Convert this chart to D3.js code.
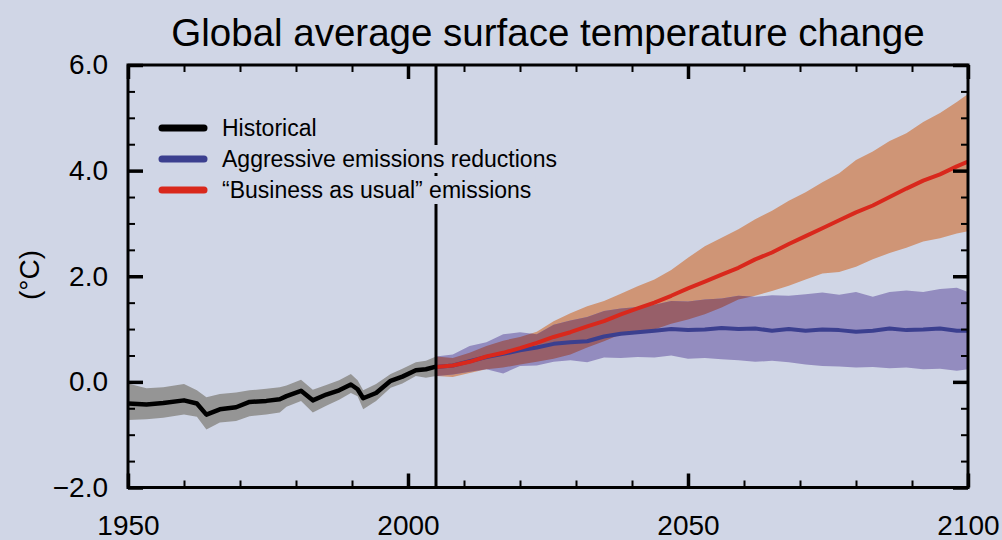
<!DOCTYPE html>
<html><head><meta charset="utf-8">
<script src="https://cdn.jsdelivr.net/npm/d3@7"></script>
<style>
html,body{margin:0;padding:0;background:#d0d6e6;}
text{font-family:"Liberation Sans",Arial,sans-serif;fill:#000;}
</style></head>
<body><svg id="c" width="1002" height="540"></svg>
<script>
// ---------- data ----------
const histYears = [1950,1953.3,1956.3,1960,1962.3,1964,1966.4,1969.3,1971.7,1974.7,1977.1,1978.3,1980.9,1983,1985.4,1987.7,1989.8,1991,1992,1994.3,1996.9,1999,2001.4,2003.2,2005];
const histMean  = [-0.41,-0.43,-0.40,-0.35,-0.41,-0.62,-0.52,-0.48,-0.38,-0.36,-0.33,-0.27,-0.17,-0.35,-0.24,-0.16,-0.05,-0.14,-0.31,-0.21,0.02,0.10,0.22,0.24,0.29];
const histHigh  = [-0.03,-0.12,-0.10,-0.04,-0.16,-0.29,-0.23,-0.20,-0.16,-0.13,-0.10,-0.07,0.04,-0.15,-0.06,0.03,0.15,0.03,-0.16,-0.04,0.15,0.25,0.37,0.40,0.48];
const histLow   = [-0.72,-0.71,-0.68,-0.62,-0.66,-0.90,-0.77,-0.74,-0.65,-0.62,-0.58,-0.47,-0.36,-0.58,-0.45,-0.34,-0.21,-0.27,-0.52,-0.36,-0.11,-0.03,0.11,0.08,0.11];

const projYears = [2005,2008,2011,2014,2017,2020,2023,2026,2029,2032,2035,2038,2041,2044,2047,2050,2053,2056,2059,2062,2065,2068,2071,2074,2077,2080,2083,2086,2089,2092,2095,2098,2100];
const bauMean = [0.28,0.31,0.38,0.48,0.55,0.64,0.74,0.85,0.94,1.05,1.15,1.28,1.39,1.50,1.63,1.77,1.90,2.03,2.16,2.32,2.45,2.61,2.76,2.91,3.06,3.21,3.34,3.50,3.66,3.81,3.93,4.08,4.17];
const bauHigh = [0.48,0.45,0.55,0.68,0.78,0.85,0.95,1.15,1.30,1.43,1.53,1.67,1.81,1.94,2.12,2.35,2.57,2.73,2.89,3.08,3.24,3.43,3.59,3.78,3.95,4.20,4.36,4.56,4.71,4.92,5.09,5.30,5.45];
const bauLow  = [0.11,0.09,0.17,0.24,0.27,0.33,0.38,0.44,0.52,0.65,0.77,0.90,0.96,0.99,1.10,1.18,1.28,1.41,1.56,1.63,1.72,1.82,1.94,2.05,2.08,2.18,2.32,2.44,2.54,2.66,2.72,2.81,2.85];
const aggMean = [0.28,0.31,0.39,0.47,0.53,0.60,0.65,0.72,0.75,0.77,0.86,0.91,0.94,0.97,1.00,0.98,0.99,1.02,1.00,1.01,0.97,1.00,0.97,0.99,0.98,0.95,0.97,1.01,0.98,0.99,1.01,0.97,0.97];
const aggHigh = [0.48,0.52,0.68,0.75,0.90,0.94,0.90,1.08,1.16,1.23,1.34,1.39,1.42,1.46,1.53,1.52,1.56,1.58,1.63,1.61,1.64,1.63,1.66,1.69,1.65,1.70,1.61,1.70,1.73,1.70,1.76,1.78,1.70];
const aggLow  = [0.11,0.14,0.19,0.24,0.16,0.30,0.31,0.38,0.41,0.37,0.46,0.45,0.47,0.46,0.50,0.44,0.45,0.43,0.41,0.38,0.40,0.37,0.33,0.30,0.29,0.27,0.28,0.26,0.27,0.24,0.25,0.21,0.24];

const xMajor = [1950,2000,2050,2100];
const xMinor = [1960,1970,1980,1990,2010,2020,2030,2040,2060,2070,2080,2090];
const yMajor = [-2,0,2,4,6];
const yMinor = [-1.5,-1,-0.5,0.5,1,1.5,2.5,3,3.5,4.5,5,5.5];
const splitYear = 2005;
const legendLabels = ["Historical","Aggressive emissions reductions","\u201cBusiness as usual\u201d emissions"];
const titleText = "Global average surface temperature change";
const yTitle = "(\u00b0C)";

// ---------- layout ----------
const L = 128, R = 968, T = 65, B = 487.5;
const BG = "#d0d6e6";
const svg = d3.select("#c");
svg.append("rect").attr("width",1002).attr("height",540).attr("fill",BG);

const x = d3.scaleLinear().domain([1950,2100]).range([L,R]);
const y = d3.scaleLinear().domain([-2,6]).range([B,T]);

svg.append("text").attr("x",548).attr("y",46).attr("text-anchor","middle")
  .attr("font-size",38.5).text(titleText);

svg.append("text").attr("transform","translate(39,275) rotate(-90)")
  .attr("text-anchor","middle").attr("font-size",28).text(yTitle);

const defs = svg.append("defs");
defs.append("clipPath").attr("id","plot").append("rect")
  .attr("x",L).attr("y",T).attr("width",R-L).attr("height",B-T);

const g = svg.append("g").attr("clip-path","url(#plot)");

const band = (yrs, lo, hi) => d3.area().x((d,i)=>x(yrs[i])).y0((d,i)=>y(lo[i])).y1((d,i)=>y(hi[i]))(yrs);
const line = (yrs, v) => d3.line().x((d,i)=>x(yrs[i])).y((d,i)=>y(v[i]))(yrs);

g.append("path").attr("d",band(histYears,histLow,histHigh)).attr("fill","#959595");
g.append("path").attr("d",band(projYears,bauLow,bauHigh)).attr("fill","#cf9576");
g.append("path").attr("d",band(projYears,aggLow,aggHigh)).attr("fill","#938cbf");
defs.append("clipPath").attr("id","bauclip").append("path").attr("d",band(projYears,bauLow,bauHigh));
g.append("path").attr("d",band(projYears,aggLow,aggHigh)).attr("fill","#975f69").attr("clip-path","url(#bauclip)");

g.append("path").attr("d",line(histYears,histMean)).attr("fill","none").attr("stroke","#000").attr("stroke-width",4.5).attr("stroke-linejoin","round");
g.append("path").attr("d",line(projYears,aggMean)).attr("fill","none").attr("stroke","#3b3f8f").attr("stroke-width",4).attr("stroke-linejoin","round");
g.append("path").attr("d",line(projYears,bauMean)).attr("fill","none").attr("stroke","#d9281c").attr("stroke-width",4).attr("stroke-linejoin","round");

svg.append("line").attr("x1",x(splitYear)).attr("x2",x(splitYear)).attr("y1",T).attr("y2",B)
  .attr("stroke","#000").attr("stroke-width",3);

// ---------- axes ----------
function styleAxis(sel, w){
  sel.select(".domain").remove();
  sel.selectAll(".tick line").attr("stroke","#000").attr("stroke-width",w);
  sel.selectAll(".tick text").attr("font-size",28).attr("fill","#000")
     .attr("font-family","'Liberation Sans',Arial,sans-serif");
}
const fmtY = d3.format(".1f");
// bottom
svg.append("g").attr("transform",`translate(0,${B})`)
  .call(d3.axisBottom(x).tickValues(xMinor).tickSizeInner(-7).tickSizeOuter(0).tickFormat(""))
  .call(s=>styleAxis(s,2));
svg.append("g").attr("transform",`translate(0,${B})`)
  .call(d3.axisBottom(x).tickValues(xMajor).tickSizeInner(-14).tickSizeOuter(0).tickPadding(28).tickFormat(d3.format("d")))
  .call(s=>styleAxis(s,3.5));
// top
svg.append("g").attr("transform",`translate(0,${T})`)
  .call(d3.axisTop(x).tickValues(xMinor).tickSizeInner(-7).tickSizeOuter(0).tickFormat(""))
  .call(s=>styleAxis(s,2));
svg.append("g").attr("transform",`translate(0,${T})`)
  .call(d3.axisTop(x).tickValues(xMajor).tickSizeInner(-14).tickSizeOuter(0).tickFormat(""))
  .call(s=>styleAxis(s,3.5));
// left
svg.append("g").attr("transform",`translate(${L},0)`)
  .call(d3.axisLeft(y).tickValues(yMinor).tickSizeInner(-7).tickSizeOuter(0).tickFormat(""))
  .call(s=>styleAxis(s,2));
svg.append("g").attr("transform",`translate(${L},0)`)
  .call(d3.axisLeft(y).tickValues(yMajor).tickSizeInner(-15).tickSizeOuter(0).tickPadding(20).tickFormat(fmtY))
  .call(s=>styleAxis(s,3.5));
// right
svg.append("g").attr("transform",`translate(${R},0)`)
  .call(d3.axisRight(y).tickValues(yMinor).tickSizeInner(-7).tickSizeOuter(0).tickFormat(""))
  .call(s=>styleAxis(s,2));
svg.append("g").attr("transform",`translate(${R},0)`)
  .call(d3.axisRight(y).tickValues(yMajor).tickSizeInner(-15).tickSizeOuter(0).tickFormat(""))
  .call(s=>styleAxis(s,3.5));

svg.append("rect").attr("x",L).attr("y",T).attr("width",R-L).attr("height",B-T)
  .attr("fill","none").attr("stroke","#000").attr("stroke-width",3);

// ---------- legend ----------
const legColors = ["#000","#3b3f8f","#d9281c"];
const leg = svg.append("g");
legendLabels.forEach((lab,i)=>{
  const cy = 128 + i*31;
  const t = leg.append("text").attr("x",222).attr("y",cy+8).attr("font-size",23).text(lab);
  const bb = t.node().getBBox();
  leg.insert("rect","text").attr("x",bb.x-4).attr("y",bb.y-1).attr("width",bb.width+8).attr("height",bb.height+2).attr("fill",BG);
  leg.append("line").attr("x1",162).attr("x2",204).attr("y1",cy).attr("y2",cy)
    .attr("stroke",legColors[i]).attr("stroke-width",7).attr("stroke-linecap","round");
});
</script></body></html>
